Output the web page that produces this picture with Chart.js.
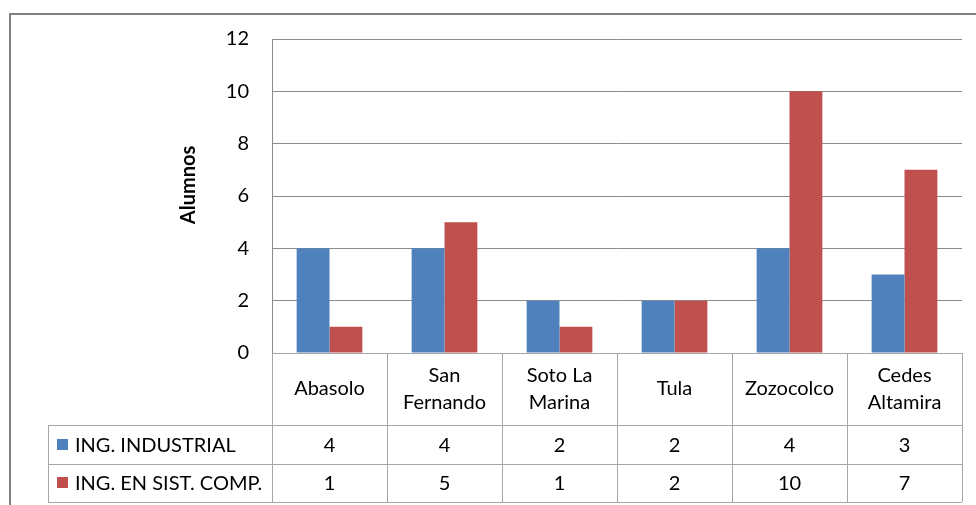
<!DOCTYPE html>
<html>
<head>
<meta charset="utf-8">
<script src="https://cdn.jsdelivr.net/npm/chart.js@4/dist/chart.umd.min.js"></script>
<style>
  html, body { margin: 0; padding: 0; background: #fff; }
  #wrap { width: 976px; height: 505px; }
</style>
</head>
<body>
<div id="wrap"><canvas id="myChart" width="976" height="505"></canvas></div>
<script>
const categories = [
    ['Abasolo'],
    ['San', 'Fernando'],
    ['Soto La', 'Marina'],
    ['Tula'],
    ['Zozocolco'],
    ['Cedes', 'Altamira'],
];
const seriesNames = ['ING. INDUSTRIAL', 'ING. EN SIST. COMP.'];
const industrial = [4, 4, 2, 2, 4, 3];
const sistComp = [1, 5, 1, 2, 10, 7];
const yMax = 12;
const yStep = 2;

const FONT = 'Lato, "Liberation Sans", sans-serif';
const colors = ['#4f81bd', '#c0504d'];

// frame round the whole chart
const framePlugin = {
    id: 'frame',
    beforeDraw(chart) {
        const ctx = chart.ctx;
        ctx.save();
        ctx.fillStyle = '#fff';
        ctx.fillRect(0, 0, chart.width, chart.height);
        ctx.strokeStyle = '#7f7f7f';
        ctx.lineWidth = 2;
        ctx.strokeRect(10, 14, 1000, 1000);
        ctx.restore();
    }
};

// data table under the plot, like Excel
const tablePlugin = {
    id: 'dataTable',
    afterDraw(chart) {
        const ctx = chart.ctx;
        const x = chart.scales.x;
        const area = chart.chartArea;
        const n = categories.length;
        const colW = (area.right - area.left) / n;
        const top = area.bottom;
        const row0 = top + 72;
        const row1 = row0 + 39;
        const row2 = row1 + 38;
        const tableLeft = 48;

        ctx.save();
        ctx.strokeStyle = '#a6a6a6';
        ctx.lineWidth = 1;
        ctx.beginPath();
        // horizontal lines
        [row0, row1, row2].forEach(y => {
            ctx.moveTo(tableLeft, y + 0.5);
            ctx.lineTo(area.right, y + 0.5);
        });
        ctx.moveTo(area.left, top + 0.5);
        ctx.lineTo(area.right, top + 0.5);
        // vertical lines
        for (let i = 0; i <= n; i++) {
            const xx = Math.round(area.left + i * colW) + 0.5;
            ctx.moveTo(xx, top);
            ctx.lineTo(xx, row2);
        }
        ctx.moveTo(tableLeft + 0.5, row0);
        ctx.lineTo(tableLeft + 0.5, row2);
        ctx.stroke();

        ctx.fillStyle = '#000';
        ctx.font = '20px ' + FONT;
        ctx.textAlign = 'center';
        ctx.textBaseline = 'middle';
        const midCat = (top + row0) / 2;
        categories.forEach((lines, i) => {
            const cx = x.getPixelForValue(i);
            const lh = 27;
            lines.forEach((t, j) => {
                const y = midCat + (j - (lines.length - 1) / 2) * lh;
                ctx.fillText(t, cx, y);
            });
        });

        const rows = [industrial, sistComp];
        const rowMids = [(row0 + row1) / 2, (row1 + row2) / 2];
        rows.forEach((vals, r) => {
            vals.forEach((v, i) => {
                ctx.fillText(String(v), x.getPixelForValue(i), rowMids[r] + 1);
            });
            ctx.fillStyle = colors[r];
            ctx.fillRect(57, Math.round(rowMids[r]) - 6, 11, 11);
            ctx.fillStyle = '#000';
            ctx.textAlign = 'left';
            ctx.fillText(seriesNames[r], 75, rowMids[r] + 1);
            ctx.textAlign = 'center';
        });

        // axis title
        ctx.save();
        ctx.translate(189, 185);
        ctx.rotate(-Math.PI / 2);
        ctx.font = 'bold 20px ' + FONT;
        ctx.fillText('Alumnos', 0, 0);
        ctx.restore();

        ctx.restore();
    }
};

const data = {
    labels: categories,
    datasets: [{
        label: seriesNames[0],
        backgroundColor: colors[0],
        data: industrial,
    }, {
        label: seriesNames[1],
        backgroundColor: colors[1],
        data: sistComp,
    }]
};

const config = {
    type: 'bar',
    data: data,
    options: {
        responsive: false,
        animation: false,
        layout: { padding: { top: 39, right: 14, bottom: 152, left: 0 } },
        datasets: { bar: { categoryPercentage: 1 / 1.75, barPercentage: 1 } },
        plugins: { legend: { display: false }, tooltip: { enabled: false } },
        scales: {
            x: { display: false },
            y: {
                min: 0,
                max: yMax,
                afterFit(scale) { scale.width = 272; },
                ticks: {
                    stepSize: yStep,
                    color: '#000',
                    padding: 23,
                    font: { family: FONT, size: 20 }
                },
                grid: { color: '#8c8c8c', drawTicks: false },
                border: { display: true, color: '#8c8c8c' }
            }
        }
    },
    plugins: [framePlugin, tablePlugin]
};

const myChart = new Chart(document.getElementById('myChart'), config);
</script>
</body>
</html>
